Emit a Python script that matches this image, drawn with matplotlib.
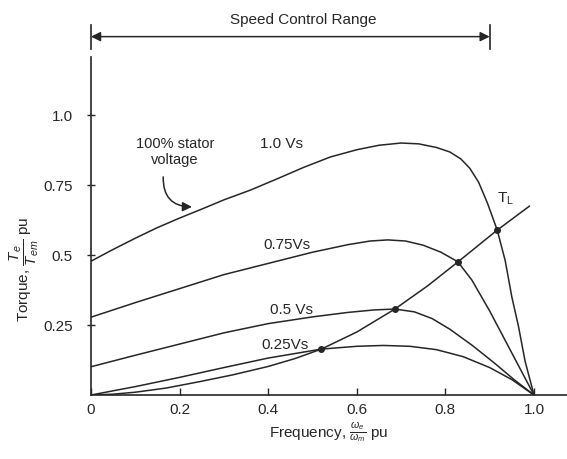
import matplotlib
matplotlib.use('Agg')
import matplotlib.pyplot as plt

plt.rcParams['font.family'] = ['Liberation Sans', 'DejaVu Sans']
plt.rcParams['mathtext.fontset'] = 'custom'
plt.rcParams['mathtext.rm'] = 'Liberation Sans'
plt.rcParams['mathtext.it'] = 'Liberation Sans:italic'

# --- values (frequency pu, torque pu) ---
x_100 = [0, 0.05, 0.1, 0.15, 0.2, 0.25, 0.3, 0.36, 0.42, 0.48, 0.54, 0.6, 0.65, 0.7, 0.74, 0.78, 0.81, 0.835, 0.855, 0.875, 0.895, 0.917, 0.935, 0.95, 0.965, 0.98, 1.0]
y_100 = [0.478, 0.52, 0.56, 0.598, 0.632, 0.664, 0.697, 0.732, 0.772, 0.813, 0.85, 0.876, 0.892, 0.9, 0.897, 0.884, 0.868, 0.843, 0.81, 0.76, 0.685, 0.589, 0.48, 0.35, 0.245, 0.12, 0.0]

x_075 = [0, 0.1, 0.2, 0.3, 0.4, 0.5, 0.58, 0.63, 0.67, 0.71, 0.75, 0.79, 0.828, 0.86, 0.9, 0.95, 1.0]
y_075 = [0.278, 0.33, 0.38, 0.43, 0.47, 0.51, 0.537, 0.55, 0.554, 0.55, 0.535, 0.51, 0.476, 0.41, 0.30, 0.15, 0.0]

x_050 = [0, 0.1, 0.2, 0.3, 0.4, 0.5, 0.58, 0.64, 0.686, 0.73, 0.77, 0.81, 0.86, 0.91, 0.955, 1.0]
y_050 = [0.101, 0.142, 0.182, 0.222, 0.255, 0.279, 0.295, 0.304, 0.307, 0.297, 0.273, 0.235, 0.178, 0.115, 0.055, 0.0]

x_025 = [0, 0.1, 0.2, 0.3, 0.4, 0.52, 0.6, 0.66, 0.72, 0.78, 0.84, 0.9, 0.95, 1.0]
y_025 = [0, 0.03, 0.063, 0.098, 0.132, 0.164, 0.174, 0.177, 0.174, 0.162, 0.137, 0.098, 0.055, 0.0]

x_load = [0, 0.05, 0.1, 0.17, 0.246, 0.32, 0.4, 0.46, 0.52, 0.6, 0.686, 0.76, 0.828, 0.917, 0.99]
y_load = [0, 0.003, 0.01, 0.025, 0.048, 0.072, 0.102, 0.13, 0.164, 0.225, 0.307, 0.39, 0.475, 0.589, 0.675]

# operating points (curve meets T_L)
x_op = [0.52, 0.686, 0.828, 0.917]
y_op = [0.164, 0.307, 0.476, 0.589]

x_ticks = [0, 0.2, 0.4, 0.6, 0.8, 1.0]
x_ticklabels = ['0', '0.2', '0.4', '0.6', '0.8', '1.0']
y_ticks = [0.25, 0.5, 0.75, 1.0]
y_ticklabels = ['0.25', '0.5', '0.75', '1.0']

speed_range = [0, 0.9]

ink = '#262626'

fig = plt.figure(figsize=(5.67, 4.59), dpi=100)
ax = fig.add_axes([0.1605, 0.1394, 0.8395, 0.854])

for xs, ys in [(x_100, y_100), (x_075, y_075), (x_050, y_050), (x_025, y_025), (x_load, y_load)]:
    ax.plot(xs, ys, color=ink, lw=1.1, solid_joinstyle='round', solid_capstyle='round')
ax.plot(x_op, y_op, 'o', color=ink, ms=4)

ax.set_xlim(0, 1.0745)
ax.set_ylim(0, 1.4)
for s in ['top', 'right']:
    ax.spines[s].set_visible(False)
ax.spines['left'].set_bounds(0, 1.207)
for s in ['left', 'bottom']:
    ax.spines[s].set_color(ink)
    ax.spines[s].set_linewidth(1.2)

ax.set_xticks(x_ticks)
ax.set_xticklabels(x_ticklabels)
ax.set_yticks(y_ticks)
ax.set_yticklabels(y_ticklabels)
ax.tick_params(axis='x', direction='in', length=5, width=1, colors=ink, labelsize=11, pad=6)
ax.tick_params(axis='y', direction='inout', length=6, width=1, colors=ink, labelsize=11, pad=10)

# curve labels
ax.text(0.43, 0.895, '1.0 Vs', fontsize=11, color=ink, ha='center', va='center')
ax.text(0.443, 0.536, '0.75Vs', fontsize=11, color=ink, ha='center', va='center')
ax.text(0.452, 0.304, '0.5 Vs', fontsize=11, color=ink, ha='center', va='center')
ax.text(0.438, 0.179, '0.25Vs', fontsize=11, color=ink, ha='center', va='center')
ax.text(0.935, 0.70, r'T$_\mathregular{L}$', fontsize=11, color=ink, ha='center', va='center')

ax.text(0.19, 0.868, '100% stator\nvoltage', fontsize=10.5, color=ink, ha='center', va='center',
        linespacing=1.1)
ax.annotate('', xy=(0.228, 0.672), xytext=(0.163, 0.779),
            arrowprops=dict(arrowstyle='-|>', color=ink, lw=1.1, mutation_scale=14,
                            connectionstyle='arc3,rad=0.5', shrinkA=0, shrinkB=0))

# speed control range arrow
ax.annotate('', xy=(speed_range[1], 1.28), xytext=(speed_range[0], 1.28),
            arrowprops=dict(arrowstyle='<|-|>', color=ink, lw=1.1, mutation_scale=14,
                            shrinkA=0, shrinkB=0), annotation_clip=False)
for xv in speed_range:
    ax.plot([xv, xv], [1.235, 1.32], color=ink, lw=1.2, clip_on=False)
ax.text(0.48, 1.34, 'Speed Control Range', fontsize=11, color=ink, ha='center', va='center')

ax.set_xlabel(r'Frequency, $\frac{\omega_e}{\omega_m}$ pu', fontsize=11, color=ink, labelpad=2)
ax.set_ylabel(r'Torque, $\dfrac{T_e}{T_{em}}$ pu', fontsize=11, color=ink)
ax.yaxis.set_label_coords(-0.105, 0.32)

fig.savefig('out.png', dpi=100)
